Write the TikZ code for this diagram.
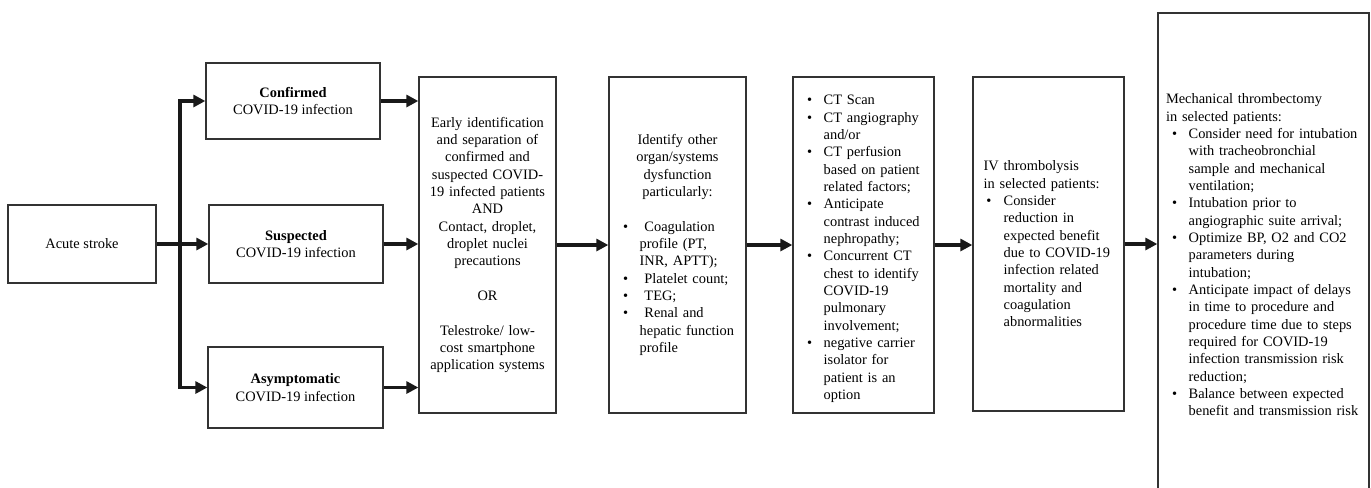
\documentclass[tikz,border=0pt]{standalone}
\usepackage{fontspec}
\setmainfont{Liberation Serif}
\usepackage{enumitem}
\setlist[itemize]{label=\textbullet, nosep, leftmargin=17pt, labelwidth=4pt, labelsep=8.5pt, align=left}
\usetikzlibrary{arrows.meta,positioning}

\tikzset{
  box/.style={draw=black!80, line width=1pt, inner xsep=6pt, inner ysep=0pt,
    font=\fontsize{10.8}{13}\selectfont},
  flow/.style={line width=2.6pt, black!90, line join=miter,
    -{Triangle[length=9pt,width=9pt]}}
}

\begin{document}
\begin{tikzpicture}[x=0.75pt, y=-0.75pt]
          \useasboundingbox (0,0) rectangle (1371,487);
          % first column
          \node[box, minimum width=111pt, minimum height=58.5pt] (stroke) at (82,244) {Acute stroke};
          \node[box, minimum width=130.5pt, minimum height=57pt, align=center] (conf) at (293,101)
            {\textbf{Confirmed}\\ COVID-19 infection};
          \node[box, minimum width=130.5pt, minimum height=58.5pt, align=center] (susp) at (296,244)
            {\textbf{Suspected}\\ COVID-19 infection};
          \node[box, minimum width=131.25pt, minimum height=60.75pt, align=center] (asym) at (295.5,387.5)
            {\textbf{Asymptomatic}\\ COVID-19 infection};
          % tall boxes
          \node[box, text width=90.75pt, minimum height=252pt, align=center] (early) at (487.5,245)
            {Early identification\\ and separation of\\ confirmed and\\ suspected COVID-\\ 19 infected patients\\ AND\\
             Contact, droplet,\\ droplet nuclei\\ precautions\\[13pt] OR\\[13pt] Telestroke/ low-\\ cost smartphone\\ application systems};
          \node[box, text width=90.75pt, minimum height=252pt, align=left] (ident) at (677.5,245)
            {\centering Identify other\\ organ/systems\\ dysfunction\\ particularly:\par\vspace{13pt}
             \begin{itemize}
               \item \ Coagulation\\ profile (PT,\\ INR, APTT);
               \item \ Platelet count;
               \item \ TEG;
               \item \ Renal and\\ hepatic function\\ profile
             \end{itemize}};
          \node[box, text width=93.75pt, minimum height=252pt, align=left] (ct) at (863.5,245)
            {\begin{itemize}
               \item CT Scan
               \item CT angiography\\ and/or
               \item CT perfusion\\ based on patient\\ related factors;
               \item Anticipate\\ contrast induced\\ nephropathy;
               \item Concurrent CT\\ chest to identify\\ COVID-19\\ pulmonary\\ involvement;
               \item negative carrier\\ isolator for\\ patient is an\\ option
             \end{itemize}};
          \node[box, inner xsep=8pt, text width=97.25pt, minimum height=250.5pt, align=left] (iv) at (1048.5,244)
            {IV thrombolysis\\ in selected patients:
             \begin{itemize}[leftmargin=15pt, labelsep=9pt, labelwidth=4pt]
               \item Consider\\ reduction in\\ expected benefit\\ due to COVID-19\\ infection related\\ mortality and\\ coagulation\\ abnormalities
             \end{itemize}};
          \node[box, inner xsep=0pt, text width=158.25pt, minimum height=363pt, align=left] (mech) at (1263.5,255)
            {\hspace*{6pt}\begin{minipage}{150pt}
             Mechanical thrombectomy\\ in selected patients:
             \begin{itemize}
               \item Consider need for intubation\\ with tracheobronchial\\ sample and mechanical\\ ventilation;
               \item Intubation prior to\\ angiographic suite arrival;
               \item Optimize BP, O2 and CO2\\ parameters during\\ intubation;
               \item Anticipate impact of delays\\ in time to procedure and\\ procedure time due to steps\\ required for COVID-19\\ infection transmission risk\\ reduction;
               \item Balance between expected\\ benefit and transmission risk
             \end{itemize}
             \end{minipage}};
          % connectors
          \coordinate (br) at (180,244);
          \draw[flow] (stroke.east) -- (susp.west);
          \draw[flow] (br) |- (conf.west);
          \draw[flow] (br) |- (asym.west);
          \draw[flow] (conf.east) -- (conf.east -| early.west);
          \draw[flow] (susp.east) -- (susp.east -| early.west);
          \draw[flow] (asym.east) -- (asym.east -| early.west);
          \draw[flow] (early.east) -- (early.east -| ident.west);
          \draw[flow] (ident.east) -- (ident.east -| ct.west);
          \draw[flow] (ct.east) -- (ct.east -| iv.west);
          \draw[flow] (iv.east) -- (iv.east -| mech.west);
        \end{tikzpicture}
\end{document}
